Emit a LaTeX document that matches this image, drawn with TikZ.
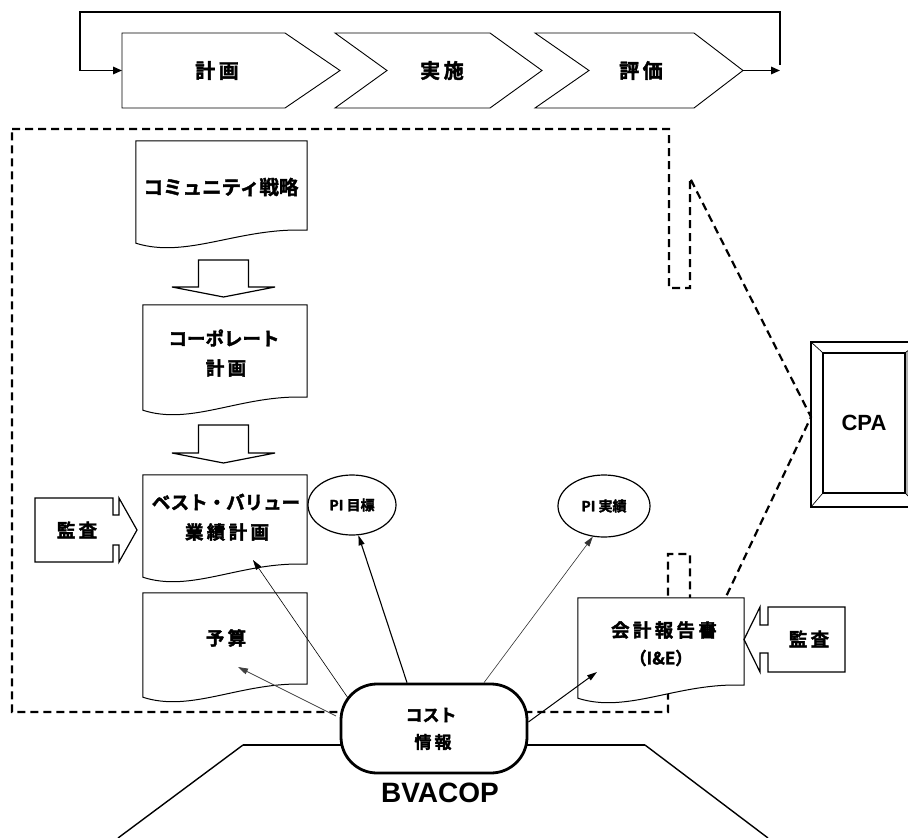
\documentclass[tikz,border=0pt]{standalone}
\usepackage{fontspec}
\usetikzlibrary{calc,arrows.meta,shapes.geometric}
\newfontfamily\jp{Noto Sans CJK JP Bold}[FakeBold=2]
\newfontfamily\jpsp{Noto Sans CJK JP Bold}[LetterSpace=18,FakeBold=2]
\newfontfamily\latb{Liberation Sans Bold}

% document symbol: straight top and sides, wavy bottom edge
\newcommand\docoutline[1]{%
  \draw[docline] (#1.north west) -- (#1.north east)
    -- ($(#1.south east)+(0,-13)$)
    .. controls ($(#1.south west)!0.6!(#1.south east)+(0,-16)$)
           and ($(#1.south west)!0.3!(#1.south east)+(0,16)$) .. (#1.south west)
    -- cycle;}

\begin{document}
\begin{tikzpicture}[x=1pt,y=-1pt,
  chev/.style={draw,line width=0.9pt,line join=miter,fill=white},
  loopline/.style={line width=1.6pt},
  loophead/.style={-{Triangle[length=9pt,width=7.5pt]}},
  bound/.style={line width=2.2pt,dash pattern=on 8pt off 5pt},
  docline/.style={line width=1pt,fill=white,line join=miter},
  docbox/.style={rectangle,inner sep=0pt,draw=none},
  lbl/.style={inner sep=0pt,align=center,font=\jp\fontsize{18.5}{30}\selectfont},
  lblsp/.style={inner sep=0pt,align=center,font=\jpsp\fontsize{18.5}{30}\selectfont},
  blk/.style={draw,line width=1.2pt,fill=white,line join=miter},
  pinode/.style={ellipse,draw,line width=1.2pt,fill=white,inner sep=0pt,font=\jp\fontsize{14}{15}\selectfont},
  feed/.style={-{Triangle[length=10pt,width=6pt]}},
  pill/.style={rectangle,draw,line width=2.8pt,rounded corners=36pt,fill=white,minimum width=186pt,minimum height=89pt,inner sep=0pt},
  trap/.style={line width=1.4pt},
]
\useasboundingbox (0,0) rectangle (908,838);

% ---- dashed group boundary with the callout towards CPA ----
\coordinate (cpaL) at (811,417);
\draw[bound] (12,129) -- (669,129) -- (669,288) -- (690,288) -- (690,178)
  -- (cpaL) -- (715,620) -- (690,620) -- (690,554) -- (668,554) -- (668,712)
  -- (12,712) -- cycle;

% ---- BVACOP trapezoid ----
\draw[trap] (118,838) -- (243,745);
\draw[trap] (645,745) -- (768,838);
\draw[line width=2.4pt] (243,745) -- (645,745);

% ---- plan / do / check chevrons with feedback loop ----
\draw[chev] (122,33) -- (285,33) -- (340,70.5) -- (285,108) -- (122,108) -- cycle;
\draw[chev] (335,33) -- (490,33) -- (542,70.5) -- (490,108) -- (335,108) -- (387,70.5) -- cycle;
\draw[chev] (535,33) -- (694,33) -- (743,70.5) -- (694,108) -- (535,108) -- (589,70.5) -- cycle;
\node[lblsp,font=\jpsp\fontsize{20}{21}\selectfont] (c1) at (217,70.5) {計画};
\node[lblsp,font=\jpsp\fontsize{20}{21}\selectfont] (c2) at (442,70.5) {実施};
\node[lblsp,font=\jpsp\fontsize{20}{21}\selectfont] (c3) at (641,70.5) {評価};
\coordinate (c1in) at (122,70.5);
\coordinate (c3out) at (743,70.5);
\coordinate (loopR) at (780,70.5);
\draw[loopline,loophead] (c3out) -- (loopR);
\draw[loopline,loophead] (780,65) -- (780,12) -- (80,12) -- (80,70.5) -- (c1in);

% ---- documents ----
\node[docbox,minimum width=171pt,minimum height=102pt] (d1) at (221.5,192) {};
\node[docbox,minimum width=164pt,minimum height=105pt] (d2) at (225,357.5) {};
\node[docbox,minimum width=164pt,minimum height=102pt] (d3) at (225,526) {};
\node[docbox,minimum width=164pt,minimum height=104pt] (d4) at (225,645) {};
\node[docbox,minimum width=166pt,minimum height=100pt] (d5) at (661,648) {};
\docoutline{d1}
\docoutline{d2}
\docoutline{d3}
\docoutline{d4}
\docoutline{d5}
\node[lbl,font=\jp\fontsize{19.5}{20}\selectfont] (t1) at (221,187) {コミュニティ戦略};
\node[lbl] (t2a) at (224,338) {コーポレート};
\node[lblsp] (t2b) at (226,368) {計画};
\node[lbl] (t3a) at (226,502) {ベスト・バリュー};
\node[lblsp] (t3b) at (227,532) {業績計画};
\node[lblsp] (t4) at (226,638) {予算};
\node[lblsp] (t5a) at (664,630) {会計報告書};
\node[lbl,font=\jp\fontsize{17}{18}\selectfont] (t5b) at (661,658) {（I\&E）};

% ---- block arrows between the plans ----
\coordinate (a1) at (223.5,260);
\coordinate (a2) at (223.5,425);
\draw[blk] (a1) ++(-25,0) -- ++(50,0) -- ++(0,27) -- ++(26.5,0) -- ++(-51.5,10)
  -- ++(-51.5,-10) -- ++(26.5,0) -- cycle;
\draw[blk] (a2) ++(-25,0) -- ++(50,0) -- ++(0,28) -- ++(26.5,0) -- ++(-51.5,10)
  -- ++(-51.5,-10) -- ++(26.5,0) -- cycle;

% ---- audit arrows ----
\draw[blk] (35,498) -- (113,498) -- (113,515) -- (119,515) -- (119,498) -- (137,530)
  -- (119,562) -- (119,545) -- (113,545) -- (113,562) -- (35,562) -- cycle;
\node[lblsp] (audL) at (77,530) {監査};
\draw[blk] (845,607) -- (768,607) -- (768,625) -- (760,625) -- (760,607) -- (744,639.5)
  -- (760,672) -- (760,653) -- (768,653) -- (768,672) -- (845,672) -- cycle;
\node[lblsp] (audR) at (809,639) {監査};

% ---- PI ellipses ----
\node[pinode,minimum width=88pt,minimum height=60pt] (piT) at (352,505) {PI 目標};
\node[pinode,minimum width=92pt,minimum height=62pt] (piA) at (604,506) {PI 実績};

% ---- CPA bevel box ----
\node[draw,line width=1.3pt,inner sep=0pt,minimum width=82pt,minimum height=140pt,
  font=\latb\fontsize{22}{24}\selectfont] (cpa) at (864,423) {CPA};
\fill[gray!60] (cpa.north east) -- (920,342) -- (920,507) -- (cpa.south east) -- cycle;
\draw[line width=1.3pt] (cpa.north west) rectangle (cpa.south east);
\draw[line width=1.5pt] (811,342) rectangle (920,507);
\draw[line width=0.7pt] (811,342) -- (cpa.north west)
  (811,507) -- (cpa.south west)
  (920,342) -- (cpa.north east)
  (920,507) -- (cpa.south east);

% ---- cost information hub ----
\node[pill] (cost) at (434,728.5) {};
\node[lbl,font=\jp\fontsize{17}{18}\selectfont] (costA) at (431,715) {コスト};
\node[lblsp,font=\jpsp\fontsize{17}{18}\selectfont] (costB) at (433,742) {情報};
\node[font=\latb\fontsize{28}{30}\selectfont,inner sep=0pt] (bv) at (440,793) {BVACOP};

% ---- information flows out of the hub ----
\draw[feed,line width=0.6pt] ($(cost)+(-86,-30.5)$) -- ($(d3)+(28,34)$);
\draw[feed,line width=0.7pt,black!75] ($(cost)+(-98,-12.5)$) -- ($(d4)+(13,22)$);
\draw[feed,line width=1.1pt] ($(cost.north)+(-27,0)$) -- (piT.282);
\draw[feed,line width=0.6pt,black!80] ($(cost.north)+(50,0)$) -- (piA.250);
\draw[feed,line width=1pt] ($(cost.east)+(0,-6.5)$) -- ($(d5)+(-64,24)$);

\end{tikzpicture}
\end{document}
